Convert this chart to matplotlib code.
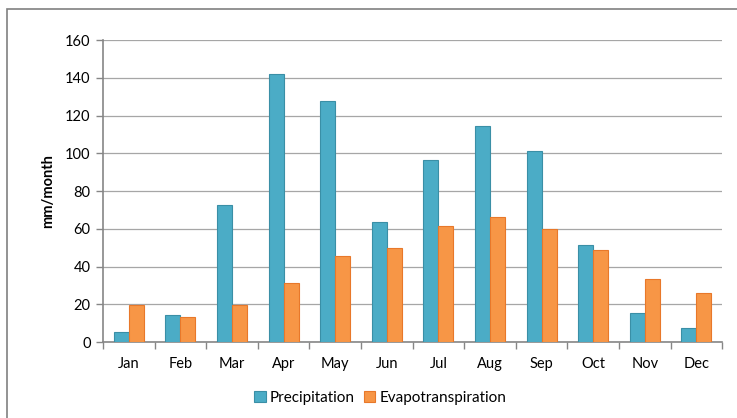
import numpy as np
import matplotlib
matplotlib.use("Agg")
import matplotlib.pyplot as plt
from matplotlib.patches import Rectangle

# monthly values (mm/month)
months = ['Jan', 'Feb', 'Mar', 'Apr', 'May', 'Jun', 'Jul', 'Aug', 'Sep', 'Oct', 'Nov', 'Dec']
precipitation = [5.3, 14.2, 72.5, 142, 128, 63.5, 96.5, 114.5, 101.5, 51.5, 15.5, 7.5]
evapotranspiration = [19.5, 13.2, 19.5, 31.5, 45.5, 50, 61.5, 66, 60, 49, 33.5, 26]

plt.rcParams['font.family'] = ['Lato', 'DejaVu Sans']

fig = plt.figure(figsize=(7.37, 4.18), dpi=100)
ax = fig.add_axes([0.1398, 0.1818, 0.8402, 0.7222])

x = np.arange(len(months))
w = 0.29
ax.bar(x - w / 2, precipitation, w, color='#4BACC6', edgecolor='#3A8FA6', linewidth=0.8,
       label='Precipitation', zorder=3)
ax.bar(x + w / 2, evapotranspiration, w, color='#F79646', edgecolor='#E8782A', linewidth=0.8,
       label='Evapotranspiration', zorder=3)

ax.set_xlim(-0.5, len(months) - 0.5)
ax.set_ylim(0, 160)
ax.set_yticks(range(0, 161, 20))
ax.yaxis.grid(True, color='#A6A6A6', linewidth=0.9, zorder=0)
ax.set_xticks(x)
ax.set_xticklabels(months)
ax.set_xticks(np.arange(-0.5, len(months)), minor=True)
ax.tick_params(axis='x', which='major', length=0, pad=11, labelsize=10.5)
ax.tick_params(axis='x', which='minor', length=5, color='#868686', width=1)
ax.tick_params(axis='y', length=5, color='#868686', width=1, labelsize=10.5, pad=4)

for s in ['top', 'right']:
    ax.spines[s].set_visible(False)
for s in ['left', 'bottom']:
    ax.spines[s].set_color('#868686')
    ax.spines[s].set_linewidth(1.2)

ax.set_ylabel('mm/month', fontsize=10.5, fontweight='bold', labelpad=7)

fig.legend(*ax.get_legend_handles_labels(), loc='center', bbox_to_anchor=(0.516, 0.048), ncol=2,
           frameon=False, fontsize=11, handlelength=0.75, handleheight=0.75, handletextpad=0.25,
           columnspacing=0.6)

# outer chart frame
fig.patches.append(Rectangle((7 / 737, -0.05), 1.0, 1 - 9 / 418 + 0.05, transform=fig.transFigure,
                             fill=False, edgecolor='#808080', linewidth=1.2))

fig.savefig('out.png', dpi=100)
